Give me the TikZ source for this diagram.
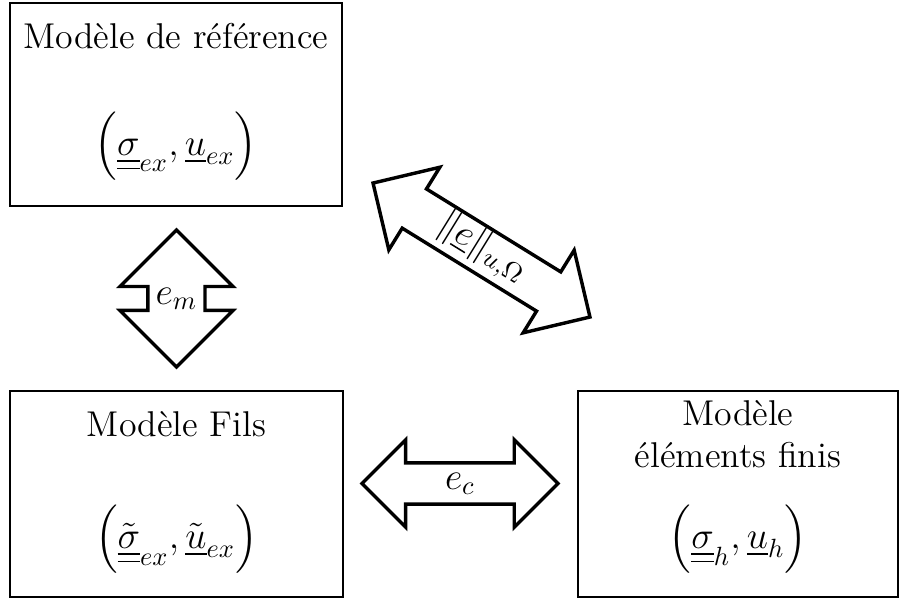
\documentclass[tikz,border=0pt]{standalone}
\usepackage{amsmath}
\usepackage{fontspec}
\usetikzlibrary{shapes.arrows, positioning, calc}

\begin{document}
\begin{tikzpicture}[
    every node/.style={font=\fontsize{13.6}{16.3}\selectfont},
    model/.style={draw, line width=0.8pt, minimum height=2.747cm},
    link/.style={draw, line width=1.3pt, double arrow, double arrow tip angle=90,
      inner sep=0pt, text height=1.6ex, text depth=0.6ex}
  ]
    \useasboundingbox (0,0) rectangle (12,7.987);

    % the three models
    \node[model, minimum width=4.427cm, minimum height=2.707cm] (ref) at (2.347,6.593) {};
    \node[model, minimum width=4.44cm] (fils) at (2.353,1.4) {};
    \node[model, minimum width=4.267cm] (fe) at (9.84,1.4) {};

    \node (reftitle) at ($(ref.north)+(0,-0.45)$) {Modèle de référence};
    \node (refsol) at ($(ref.north)+(0,-1.92)$)
      {$\Bigl(\underline{\underline{\sigma}}_{ex},\underline{u}_{ex}\Bigr)$};

    \node (filstitle) at ($(fils.north)+(0,-0.45)$) {Modèle Fils};
    \node (filssol) at ($(fils.north)+(0,-1.99)$)
      {$\Bigl(\tilde{\underline{\underline{\sigma}}}_{ex},\tilde{\underline{u}}_{ex}\Bigr)$};

    \node[align=center] (fetitle) at ($(fe.north)+(0,-0.59)$) {Modèle\\éléments finis};
    \node (fesol) at ($(fe.north)+(0,-1.99)$)
      {$\Bigl(\underline{\underline{\sigma}}_{h},\underline{u}_{h}\Bigr)$};

    % errors between the models
    \node[link, minimum height=1.827cm, shape border rotate=90, inner xsep=0.08cm,
      double arrow head extend=0.373cm] (em) at (2.353,4.007) {$e_m$};
    \node[link, minimum height=2.613cm, inner ysep=0.086cm,
      double arrow head extend=0.307cm] (ec) at (6.133,1.54) {$e_c$};
    \node[link, minimum height=3.4cm, rotate=-31.7, inner ysep=0.118cm,
      double arrow head extend=0.34cm] (eu) at (6.42,4.653)
      {$\|\underline{e}\|_{u,\Omega}$};

  \end{tikzpicture}
\end{document}
